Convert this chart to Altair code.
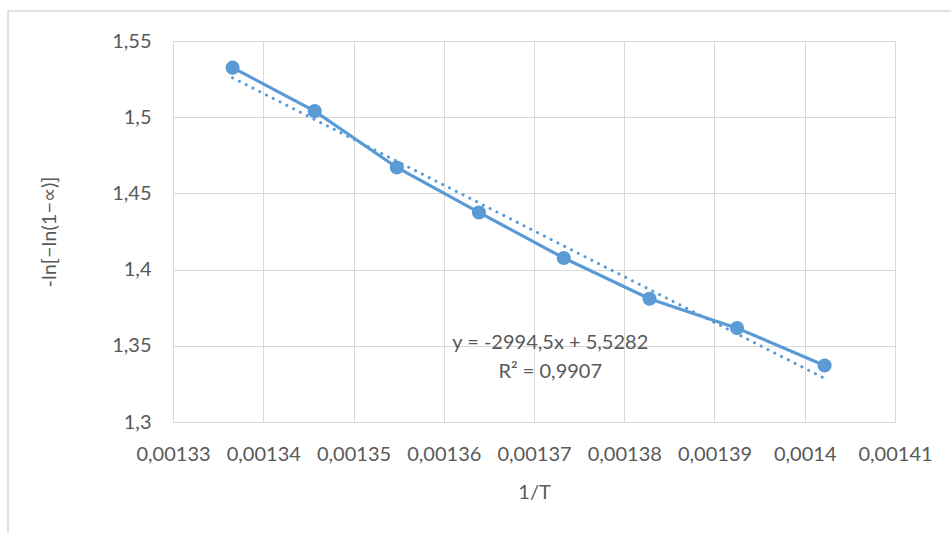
import altair as alt
import pandas as pd

# data
inv_T = [0.0013366, 0.0013457, 0.0013548, 0.0013639, 0.0013733, 0.0013828, 0.0013925, 0.0014022]
y_val = [1.5325, 1.5040, 1.4670, 1.4375, 1.4076, 1.3809, 1.3616, 1.3371]

x_ticks = [0.00133, 0.00134, 0.00135, 0.00136, 0.00137, 0.00138, 0.00139, 0.0014, 0.00141]
y_ticks = [1.3, 1.35, 1.4, 1.45, 1.5, 1.55]

eq_text = ["y = -2994,5x + 5,5282", "R² = 0,9907"]
eq_x = [0.0013718, 0.0013718]
eq_y = [1.3516, 1.3327]

df = pd.DataFrame({"x": inv_T, "y": y_val})
df_eq = pd.DataFrame({"t": eq_text, "x": eq_x, "y": eq_y})

FONT = "Lato"
BLUE = "#5B9BD5"
GRAY = "#595959"
GRID = "#D9D9D9"
FS = 20

xscale = alt.Scale(domain=[0.00133, 0.00141], nice=False, zero=False)
yscale = alt.Scale(domain=[1.3, 1.55], nice=False, zero=False)

xaxis = alt.Axis(
    values=x_ticks, title="1/T", grid=True, gridColor=GRID, gridWidth=1,
    domain=False, ticks=False, labelPadding=22, labelFontSize=FS, labelColor=GRAY,
    labelFont=FONT, titleFont=FONT, titleFontSize=FS, titleColor=GRAY,
    titleFontWeight="normal", titlePadding=18, labelOverlap=False, labelFlush=False,
    labelExpr="replace(format(datum.value, '.5~f'), '.', ',')",
)
yaxis = alt.Axis(
    values=y_ticks, title="-ln[−ln(1−∝)]", grid=True, gridColor=GRID, gridWidth=1,
    domain=False, ticks=False, labelPadding=22, labelFontSize=FS, labelColor=GRAY,
    labelFont=FONT, titleFont=FONT, titleFontSize=FS, titleColor=GRAY,
    titleFontWeight="normal", titlePadding=52, labelOverlap=False, labelFlush=False,
    labelExpr="replace(format(datum.value, '.2~f'), '.', ',')",
)

base = alt.Chart(df)

frame = base.mark_rect(fill=None, stroke=GRID, strokeWidth=1.5).encode(
    x=alt.value(-165), x2=alt.value(800), y=alt.value(-30), y2=alt.value(510)
).transform_filter("datum.x == " + str(inv_T[0]))

line = base.mark_line(color=BLUE, strokeWidth=3.2).encode(
    x=alt.X("x:Q", scale=xscale, axis=xaxis),
    y=alt.Y("y:Q", scale=yscale, axis=yaxis),
)
pts = base.mark_circle(color=BLUE, size=200, opacity=1).encode(
    x=alt.X("x:Q", scale=xscale),
    y=alt.Y("y:Q", scale=yscale),
)
trend = base.transform_regression("x", "y").mark_line(
    color=BLUE, strokeWidth=3, strokeDash=[0.1, 7.5], strokeCap="round"
).encode(
    x=alt.X("x:Q", scale=xscale),
    y=alt.Y("y:Q", scale=yscale),
)
eq = alt.Chart(df_eq).mark_text(font=FONT, fontSize=FS, color=GRAY, align="center", baseline="middle").encode(
    x=alt.X("x:Q", scale=xscale),
    y=alt.Y("y:Q", scale=yscale),
    text="t:N",
)

chart = alt.layer(frame, trend, line, pts, eq).properties(
    width=722, height=381,
    autosize=alt.AutoSizeParams(type="none"),
    padding={"left": 173, "top": 41, "right": 56, "bottom": 111},
    background="white",
).configure_view(stroke=None)

chart.save("out.html", embed_options={"renderer": "svg", "actions": False})
